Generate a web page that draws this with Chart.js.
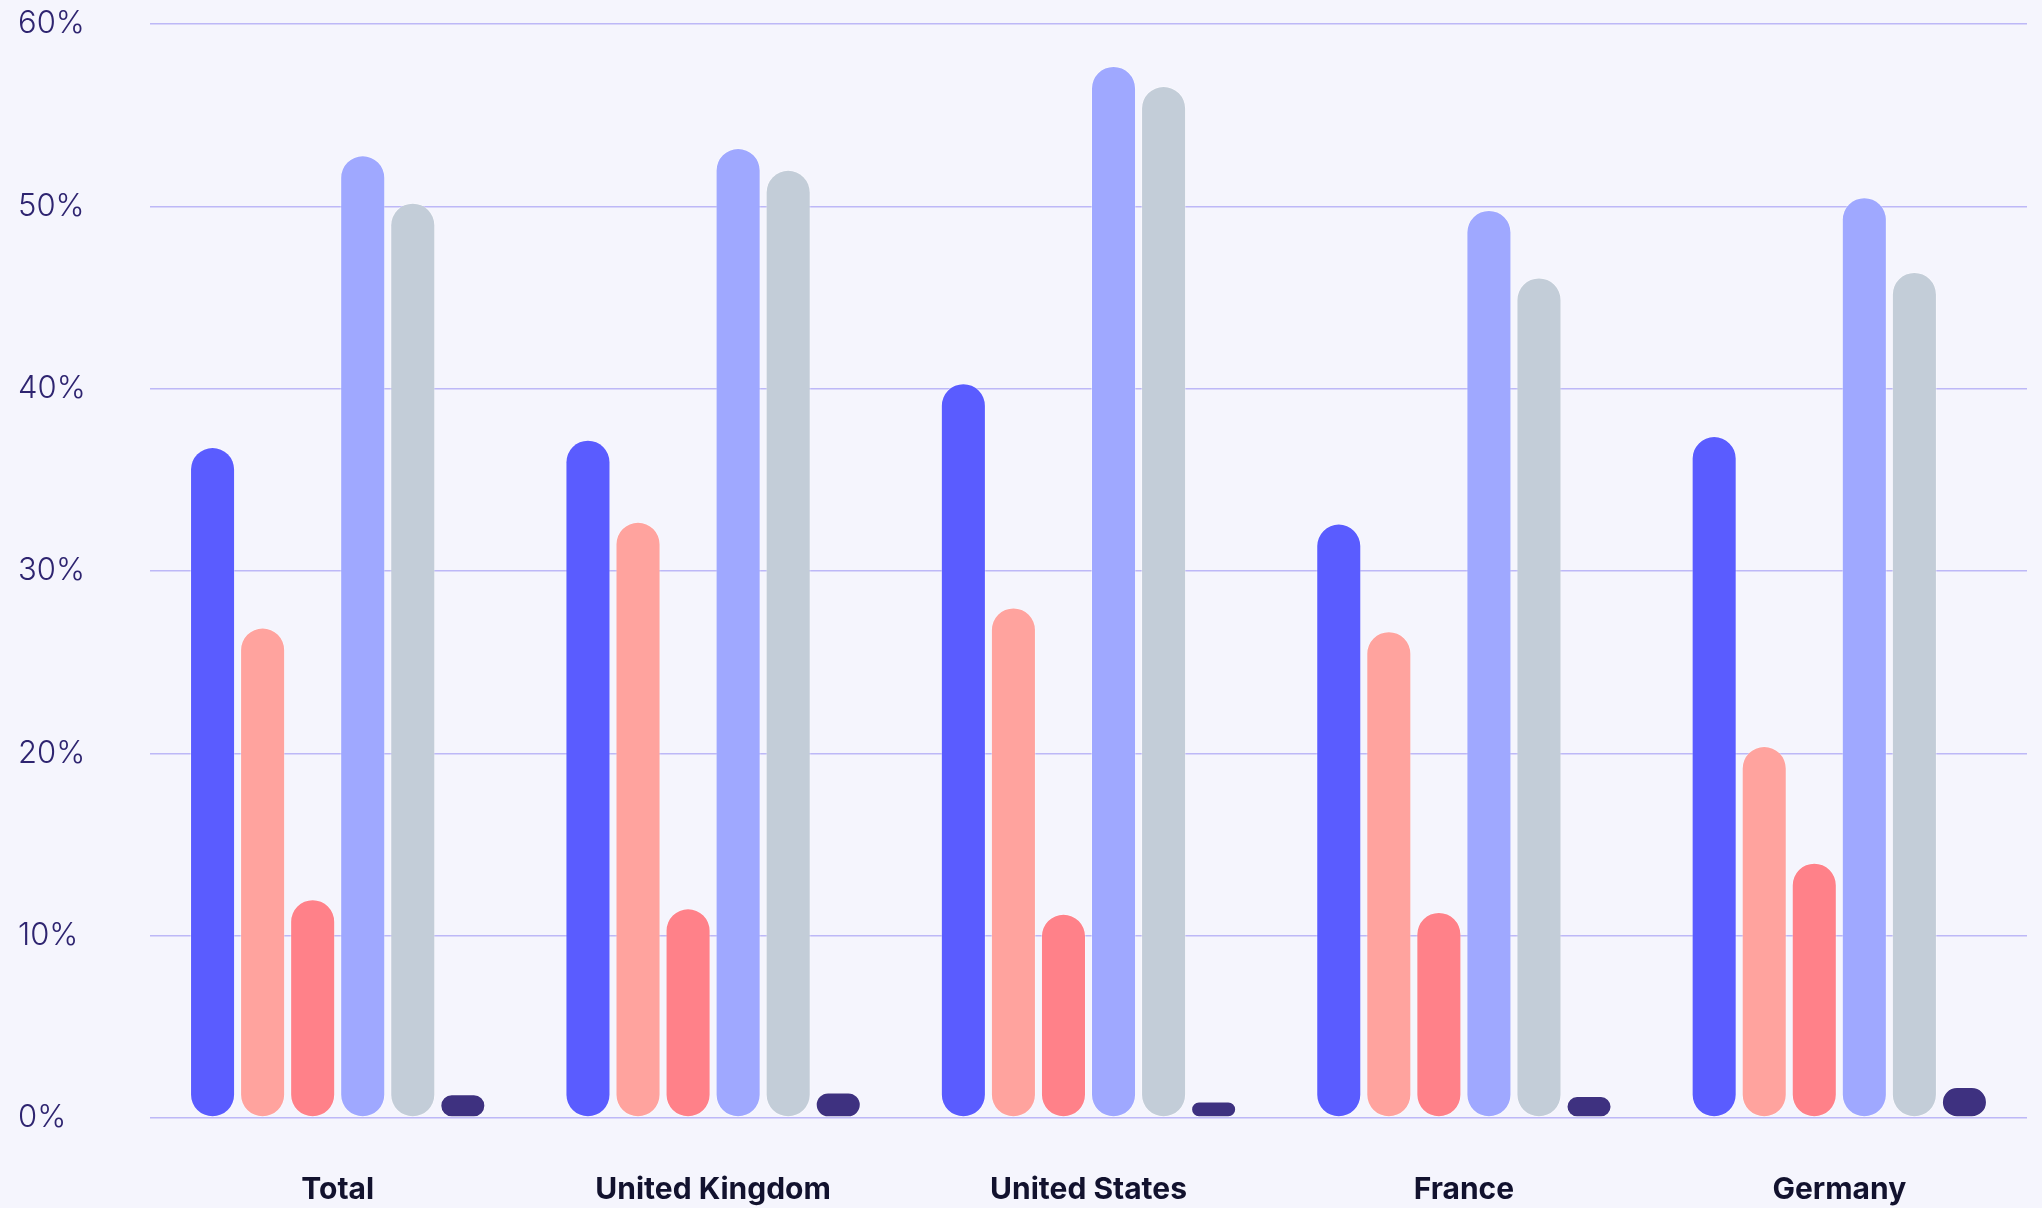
<!DOCTYPE html>
<html>
<head>
<meta charset="utf-8">
<script src="https://cdn.jsdelivr.net/npm/chart.js@4.4.1/dist/chart.umd.min.js"></script>
<style>
  html, body { margin: 0; padding: 0; background: #f5f5fd; overflow: hidden; }
  canvas { display: block; }
</style>
</head>
<body>
<canvas id="chart" width="2042" height="1208"></canvas>
<script>
const categories = ['Total', 'United Kingdom', 'United States', 'France', 'Germany'];
const yTicks = [0, 10, 20, 30, 40, 50, 60];

// six answer groups, values in percent
const series1 = [36.8, 37.2, 40.3, 32.6, 37.4];
const series2 = [26.9, 32.7, 28.0, 26.7, 20.4];
const series3 = [12.0, 11.5, 11.2, 11.3, 14.0];
const series4 = [52.8, 53.2, 57.7, 49.8, 50.5];
const series5 = [50.2, 52.0, 56.6, 46.1, 46.4];
const series6 = [1.3, 1.4, 0.9, 1.2, 1.7];

const colours = ['#5a5cff', '#ffa39e', '#ff8189', '#9fa8ff', '#c3cdd8', '#3e3180'];

const datasets = [series1, series2, series3, series4, series5, series6].map((data, i) => ({
    data,
    backgroundColor: colours[i],
    borderColor: 'rgba(255,255,255,0.35)',
    borderWidth: 1,
    borderRadius: 30,
    borderSkipped: false,
}));

new Chart(document.getElementById('chart'), {
    type: 'bar',
    data: { labels: categories, datasets },
    options: {
        responsive: false,
        animation: false,
        layout: { padding: { left: 18, right: 15, top: 24, bottom: 0 } },
        plugins: { legend: { display: false }, tooltip: { enabled: false } },
        scales: {
            x: {
                afterFit: (scale) => { scale.height = 90; },
                grid: { display: false, drawTicks: false },
                border: { display: false },
                ticks: {
                    color: '#12122e',
                    padding: 54,
                    font: { family: 'Inter', size: 30, weight: '700' },
                },
            },
            y: {
                min: 0,
                max: 60,
                afterFit: (scale) => { scale.width = 132; },
                afterBuildTicks: (scale) => { scale.ticks = yTicks.map(v => ({ value: v })); },
                grid: { color: '#bdb8f7', lineWidth: 1.5, drawTicks: false },
                border: { display: false },
                ticks: {
                    color: '#2e2470',
                    crossAlign: 'far',
                    padding: 0,
                    font: { family: 'Inter', size: 31, weight: '300' },
                    callback: (v) => v + '%',
                },
            },
        },
    },
});
</script>
</body>
</html>
